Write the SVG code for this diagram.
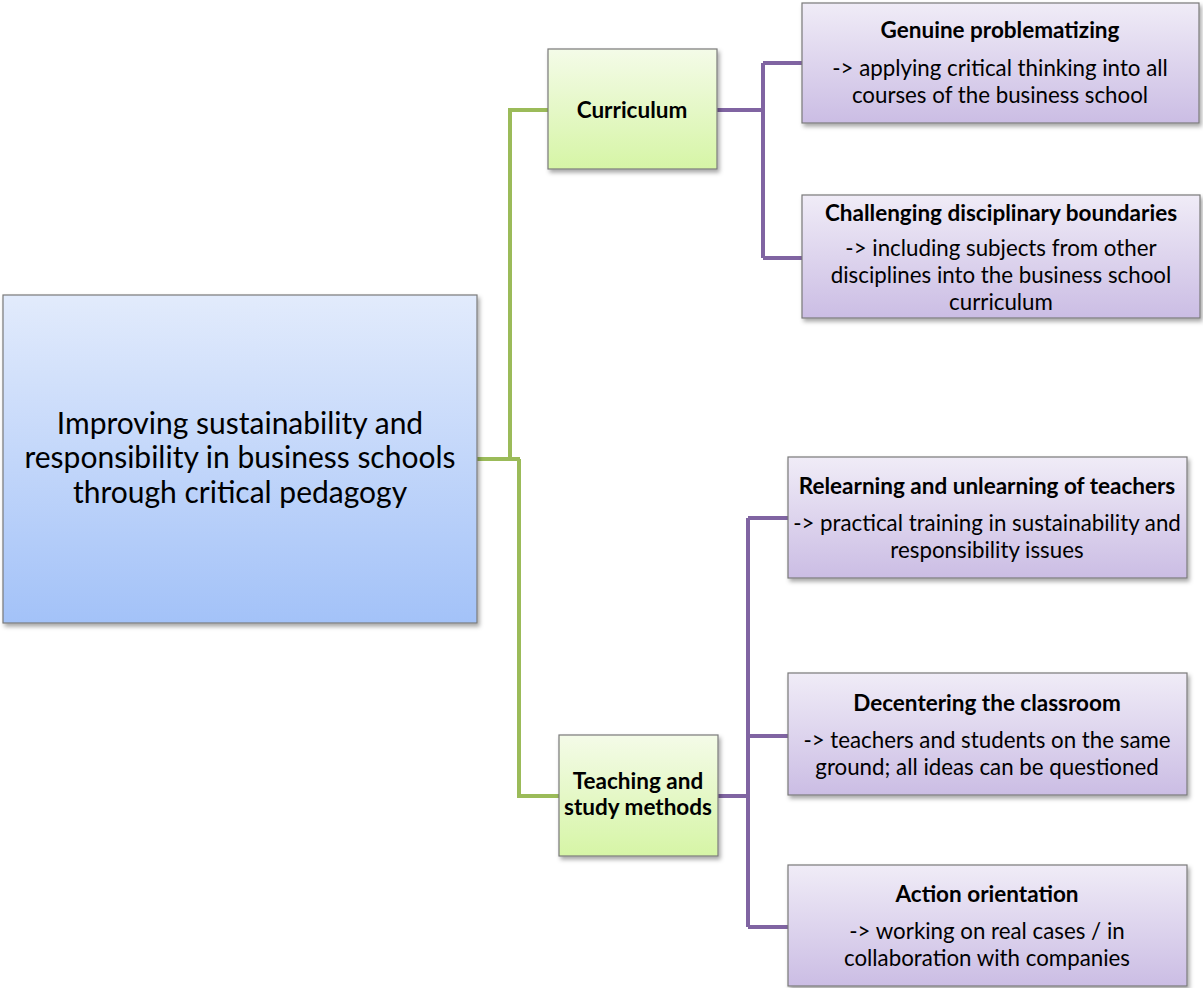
<svg xmlns="http://www.w3.org/2000/svg" width="1203" height="988" viewBox="0 0 1203 988">
<defs>
<linearGradient id="gBlue" x1="0" y1="0" x2="0" y2="1"><stop offset="0" stop-color="#e2ebfc"/><stop offset="1" stop-color="#a3c2f8"/></linearGradient>
<linearGradient id="gGreen" x1="0" y1="0" x2="0" y2="1"><stop offset="0" stop-color="#f4fbe8"/><stop offset="1" stop-color="#d6f5a6"/></linearGradient>
<linearGradient id="gPurple" x1="0" y1="0" x2="0" y2="1"><stop offset="0" stop-color="#f0ecf7"/><stop offset="1" stop-color="#cbbde4"/></linearGradient>
<filter id="sh" x="-5%" y="-5%" width="115%" height="120%"><feDropShadow dx="2" dy="3" stdDeviation="2" flood-color="#000" flood-opacity="0.35"/></filter>
</defs>
<style>
.box{stroke:#7a7a7a;stroke-width:1.2;filter:url(#sh)}
.t{font-family:Lato,"Open Sans","Liberation Sans",sans-serif;fill:#000;text-anchor:middle}
.main{font-size:30px}
.b{font-weight:bold;font-size:22.5px}
.n{font-size:22.3px}
.gl{fill:none;stroke:#9bbb59;stroke-width:4}
.pl{fill:none;stroke:#8064a2;stroke-width:4}
</style>
<rect width="1203" height="988" fill="#fff"/>
<g id="connectors">
<path class="gl" d="M477 459 H520 M510 459 V110 H548 M519 459 V796 H559"/>
<path class="pl" d="M717 110 H763 M763 63 V258 M763 63 H802 M763 258 H802"/>
<path class="pl" d="M718 796 H748 M748 518 V927 M748 518 H788 M748 736 H788 M748 927 H788"/>
</g>
<g id="main">
<rect class="box" x="3" y="295" width="474" height="328" fill="url(#gBlue)"/>
<text class="t main" x="240" y="434">Improving sustainability and</text>
<text class="t main" x="240" y="468">responsibility in business schools</text>
<text class="t main" x="240" y="503">through critical pedagogy</text>
</g>
<g id="curriculum">
<rect class="box" x="548" y="49" width="169" height="120" fill="url(#gGreen)"/>
<text class="t b" x="632" y="118">Curriculum</text>
</g>
<g id="teaching">
<rect class="box" x="559" y="735" width="159" height="121" fill="url(#gGreen)"/>
<text class="t b" x="638" y="789">Teaching and</text>
<text class="t b" x="638" y="815">study methods</text>
</g>
<g id="genuine">
<rect class="box" x="802" y="3" width="397" height="120" fill="url(#gPurple)"/>
<text class="t b" x="1000" y="38">Genuine problematizing</text>
<text class="t n" x="1000" y="76">-&gt; applying critical thinking into all</text>
<text class="t n" x="1000" y="103">courses of the business school</text>
</g>
<g id="challenging">
<rect class="box" x="802" y="195" width="398" height="123" fill="url(#gPurple)"/>
<text class="t b" x="1001" y="221">Challenging disciplinary boundaries</text>
<text class="t n" x="1001" y="256">-&gt; including subjects from other</text>
<text class="t n" x="1001" y="283">disciplines into the business school</text>
<text class="t n" x="1001" y="310">curriculum</text>
</g>
<g id="relearning">
<rect class="box" x="788" y="457" width="399" height="121" fill="url(#gPurple)"/>
<text class="t b" x="987" y="494">Relearning and unlearning of teachers</text>
<text class="t n" x="987" y="531">-&gt; practical training in sustainability and</text>
<text class="t n" x="987" y="558">responsibility issues</text>
</g>
<g id="decentering">
<rect class="box" x="788" y="673" width="399" height="122" fill="url(#gPurple)"/>
<text class="t b" x="987" y="711">Decentering the classroom</text>
<text class="t n" x="987" y="748">-&gt; teachers and students on the same</text>
<text class="t n" x="987" y="775">ground; all ideas can be questioned</text>
</g>
<g id="action">
<rect class="box" x="788" y="865" width="399" height="121" fill="url(#gPurple)"/>
<text class="t b" x="987" y="902">Action orientation</text>
<text class="t n" x="987" y="939">-&gt; working on real cases / in</text>
<text class="t n" x="987" y="966">collaboration with companies</text>
</g>
</svg>
